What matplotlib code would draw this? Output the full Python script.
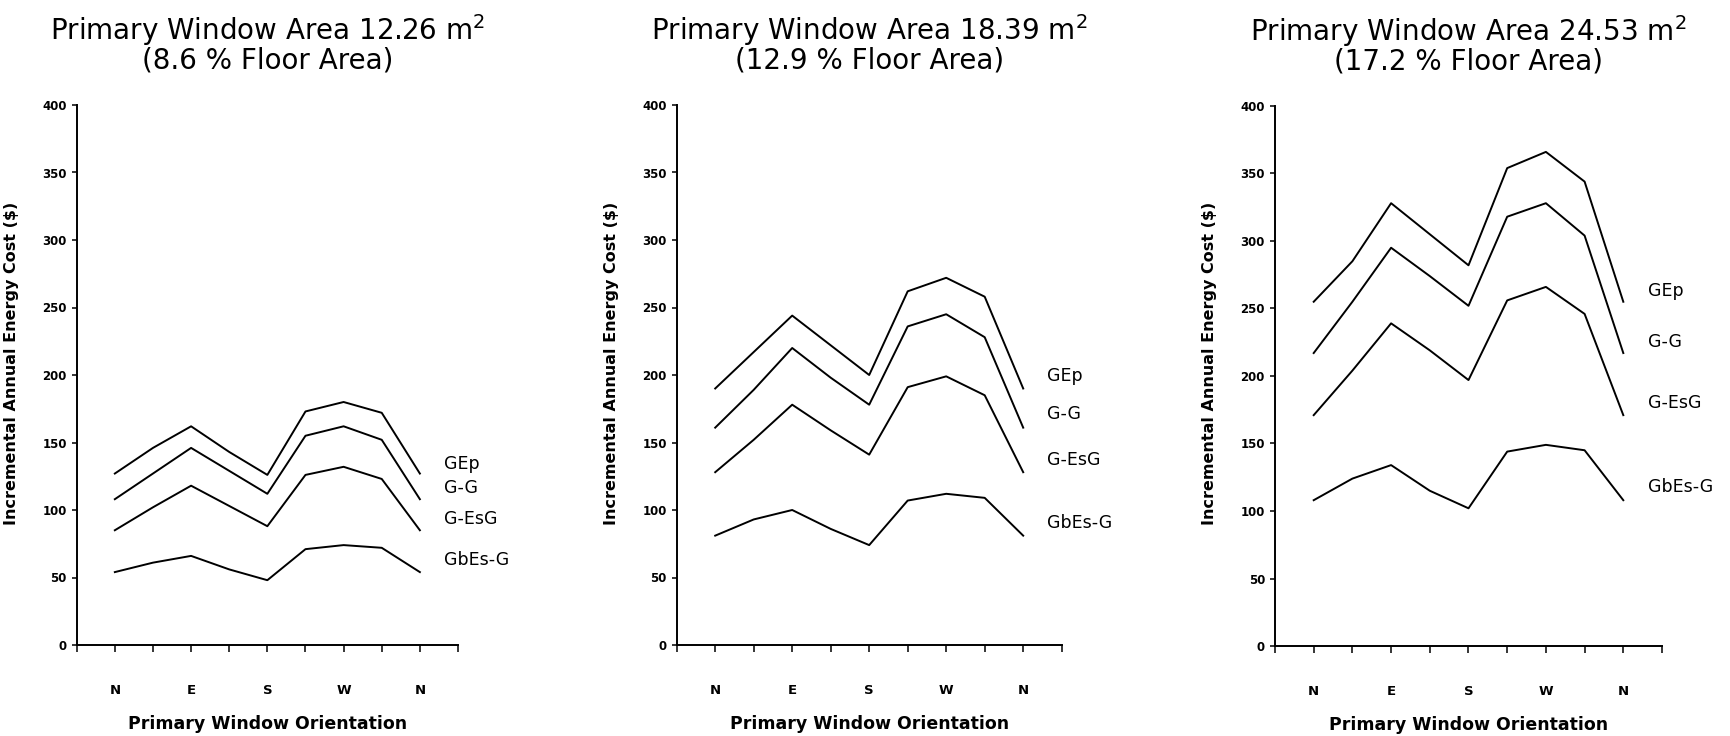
import matplotlib
matplotlib.use("Agg")
import matplotlib.pyplot as plt

# orientation steps around the compass, N back to N
positions = [1, 2, 3, 4, 5, 6, 7, 8, 9]
tick_labels = ["", "N", "", "E", "", "S", "", "W", "", "N", ""]

glazing = ["GEp", "G-G", "G-EsG", "GbEs-G"]

titles = [
    "Primary Window Area 12.26 m$^2$\n(8.6 % Floor Area)",
    "Primary Window Area 18.39 m$^2$\n(12.9 % Floor Area)",
    "Primary Window Area 24.53 m$^2$\n(17.2 % Floor Area)",
]

# incremental annual energy cost ($), one list per glazing type
cost_1226 = [
    [127, 146, 162, 143, 126, 173, 180, 172, 127],
    [108, 127, 146, 129, 112, 155, 162, 152, 108],
    [85, 102, 118, 103, 88, 126, 132, 123, 85],
    [54, 61, 66, 56, 48, 71, 74, 72, 54],
]
cost_1839 = [
    [190, 217, 244, 222, 200, 262, 272, 258, 190],
    [161, 189, 220, 198, 178, 236, 245, 228, 161],
    [128, 152, 178, 159, 141, 191, 199, 185, 128],
    [81, 93, 100, 86, 74, 107, 112, 109, 81],
]
cost_2453 = [
    [255, 285, 328, 305, 282, 354, 366, 344, 255],
    [217, 255, 295, 274, 252, 318, 328, 304, 217],
    [171, 204, 239, 219, 197, 256, 266, 246, 171],
    [108, 124, 134, 115, 102, 144, 149, 145, 108],
]

# where the glazing names sit at the right end of each panel
label_y_1226 = [134, 116, 93, 63]
label_y_1839 = [199, 171, 137, 90]
label_y_2453 = [263, 225, 180, 118]

panels = [
    (cost_1226, label_y_1226),
    (cost_1839, label_y_1839),
    (cost_2453, label_y_2453),
]

W, H = 1731, 736
fig = plt.figure(figsize=(W / 100, H / 100), dpi=100)

# axes boxes in pixels: left, right, bottom(y from top), top(y from top)
boxes = [(76.7, 458, 645, 105), (676.7, 1061.7, 645, 105), (1275, 1662, 646, 106)]

for (series, label_y), title, (x0, x1, yb, yt) in zip(panels, titles, boxes):
    ax = fig.add_axes([x0 / W, (H - yb) / H, (x1 - x0) / W, (yb - yt) / H])
    for vals, name, ly in zip(series, glazing, label_y):
        ax.plot(positions, vals, color="black", lw=1.4)
        ax.text(9.63, ly, name, fontsize=12.5, va="center", ha="left")

    ax.set_xlim(0, 10)
    ax.set_ylim(0, 400)
    ax.set_xticks(range(11))
    ax.set_xticklabels(tick_labels, fontsize=9.5, fontweight="bold")
    ax.set_yticks(range(0, 401, 50))
    ax.set_yticklabels([str(v) for v in range(0, 401, 50)], fontsize=8.5, fontweight="bold")
    ax.tick_params(axis="x", direction="out", length=5, width=1.1, pad=23)
    ax.tick_params(axis="y", direction="out", length=3.6, width=1.1, pad=3.6)
    for side in ["top", "right"]:
        ax.spines[side].set_visible(False)
    for side in ["left", "bottom"]:
        ax.spines[side].set_linewidth(1.4)

    ax.set_xlabel("Primary Window Orientation", fontsize=12.5, fontweight="bold", labelpad=13)
    ax.set_ylabel("Incremental Annual Energy Cost ($)", fontsize=11.5, fontweight="bold")
    ax.yaxis.set_label_coords(-57.5 / (x1 - x0), (yb - 363) / (yb - yt))

    ax.set_title(title, fontsize=20, linespacing=0.95, pad=26)

fig.savefig("out.png", dpi=100)
